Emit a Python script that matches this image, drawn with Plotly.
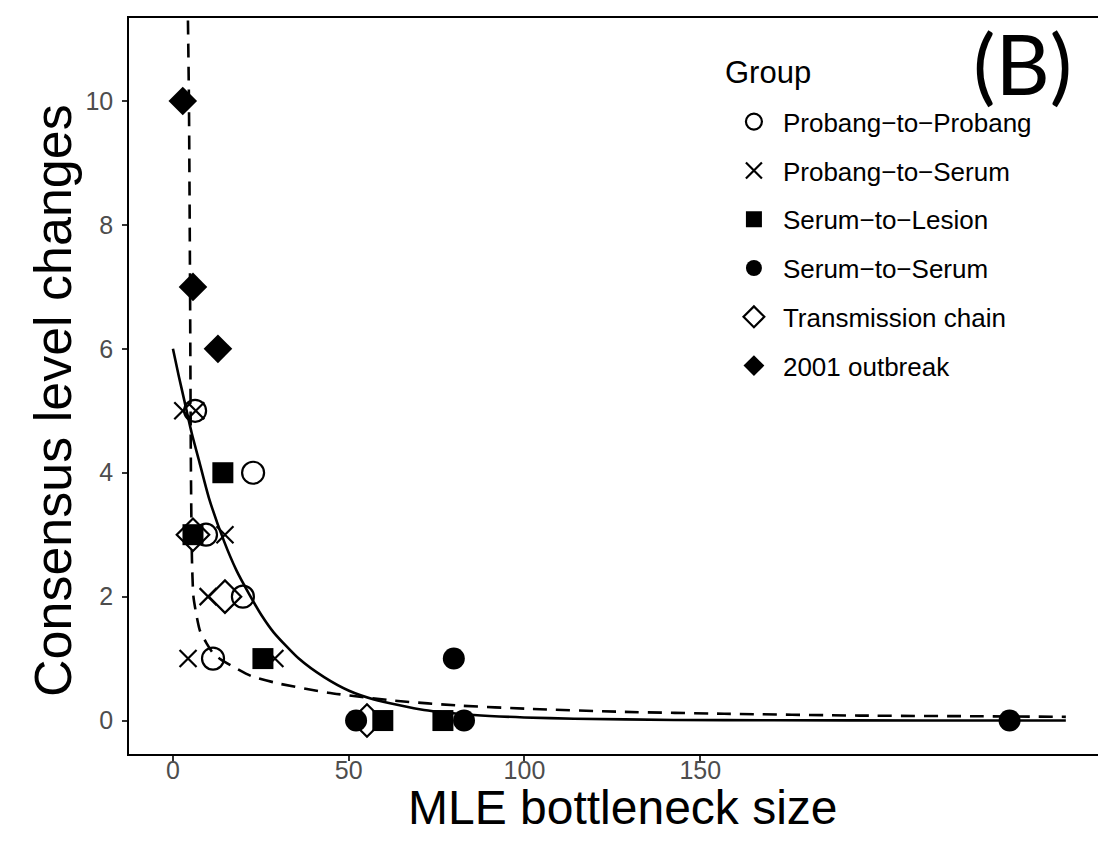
import plotly.graph_objects as go

# ---- data ----
pp_x = [6.3, 22.8, 9.4, 19.9, 11.4]          # Probang-to-Probang
pp_y = [5, 4, 3, 2, 1]
ps_x = [2.8, 6.5, 14.8, 10.0, 4.3, 29.0]     # Probang-to-Serum
ps_y = [5, 5, 3, 2, 1, 1]
sl_x = [14.2, 5.7, 25.6, 59.7, 76.8]         # Serum-to-Lesion
sl_y = [4, 3, 1, 0, 0]
ss_x = [79.9, 52.1, 82.8, 238.0]             # Serum-to-Serum
ss_y = [1, 0, 0, 0]
tc_x = [5.7, 14.8, 55.2]                     # Transmission chain
tc_y = [3, 2, 0]
ob_x = [2.8, 5.7, 12.8]                      # 2001 outbreak
ob_y = [10, 7, 6]

# fitted curves (sampled along the drawn lines)
solid_x = [0, 1.7, 3.1, 5.3, 7.4, 10.2, 14.5, 18.1, 21.6, 25.2, 28.7, 35.8, 43.0, 50.1, 57.2, 71.4, 85.6, 99.9, 114.1, 142.5, 171, 213.7, 254]
solid_y = [6.0, 5.55, 5.2, 4.65, 4.2, 3.6, 2.9, 2.42, 2.05, 1.7, 1.42, 1.0, 0.7, 0.48, 0.34, 0.17, 0.09, 0.05, 0.03, 0.01, 0.005, 0.0, 0.0]
dash_x = [4.27, 4.55, 4.84, 5.12, 5.41, 5.83, 6.69, 7.68, 9.53, 11.38, 13.8, 16.5, 22.2, 29.9, 44.1, 63.2, 81.9, 101, 128.3, 156.8, 195.2, 227.9, 254]
dash_y = [11.3, 10.0, 7.3, 4.0, 2.6, 2.0, 1.7, 1.45, 1.25, 1.09, 0.98, 0.89, 0.72, 0.6, 0.45, 0.32, 0.24, 0.19, 0.14, 0.11, 0.08, 0.07, 0.06]

x_ticks = [0, 50, 100, 150]
y_ticks = [0, 2, 4, 6, 8, 10]

FONT = "Liberation Sans"
fig = go.Figure()

def add(name, x, y, symbol, size, lw, grp):
    fig.add_trace(go.Scatter(
        x=x, y=y, mode="markers", name=name, legendgroup=grp,
        marker=dict(symbol=symbol, size=size, color="black",
                    line=dict(color="black", width=lw)),
    ))

add("Probang\u2212to\u2212Probang", pp_x, pp_y, "circle-open", 22, 2.2, "a")
add("Probang\u2212to\u2212Serum", ps_x, ps_y, "x-thin-open", 17, 2.2, "b")
add("Serum\u2212to\u2212Lesion", sl_x, sl_y, "square", 21, 0, "c")
add("Serum\u2212to\u2212Serum", ss_x, ss_y, "circle", 22, 0, "d")
add("Transmission chain", tc_x, tc_y, "diamond-open", 25, 2.2, "e")
add("2001 outbreak", ob_x, ob_y, "diamond", 22, 0, "f")

fig.add_trace(go.Scatter(x=solid_x, y=solid_y, mode="lines", showlegend=False,
                         line=dict(color="black", width=2.6, shape="spline", smoothing=0.6)))
fig.add_trace(go.Scatter(x=dash_x, y=dash_y, mode="lines", showlegend=False,
                         line=dict(color="black", width=2.6, dash="14px,9px", shape="spline", smoothing=0.6)))

fig.add_annotation(x=0.9076, y=0.94, xref="paper", yref="paper", text="(B)",
                   showarrow=False, font=dict(family="Lato", size=84, color="black"),
                   xanchor="center", yanchor="middle")
fig.add_annotation(x=0.603, y=0.926, xref="paper", yref="paper", text="Group",
                   showarrow=False, font=dict(family=FONT, size=31, color="black"),
                   xanchor="left", yanchor="middle")
# axis titles
fig.add_annotation(x=0.5015, y=-0.073, xref="paper", yref="paper", text="MLE bottleneck size",
                   showarrow=False, font=dict(family=FONT, size=48, color="black"),
                   xanchor="center", yanchor="middle")
fig.add_annotation(x=-0.0772, y=0.481, xref="paper", yref="paper", text="Consensus level changes",
                   showarrow=False, textangle=-90, font=dict(family=FONT, size=52, color="black"),
                   xanchor="center", yanchor="middle")

fig.update_layout(
    width=1106, height=841,
    margin=dict(l=121, r=0, t=10, b=95),
    plot_bgcolor="white", paper_bgcolor="white",
    font=dict(family=FONT, color="black"),
    showlegend=True,
    legend=dict(
        x=0.605, y=0.891, xanchor="left", yanchor="top",
        font=dict(size=26, family=FONT, color="black"),
        bgcolor="rgba(0,0,0,0)", tracegroupgap=12, traceorder="grouped",
        itemwidth=48,
    ),
    xaxis=dict(
        range=[-12.5, 267.7], tickvals=x_ticks, ticktext=[str(v) for v in x_ticks],
        showgrid=False, zeroline=False, showline=True, linecolor="black", linewidth=1.5,
        mirror=True, ticks="outside", ticklen=5, tickwidth=1.5, tickcolor="#333333",
        tickfont=dict(size=25, color="#4D4D4D", family=FONT), ticklabelstandoff=-12,
    ),
    yaxis=dict(
        range=[-0.54, 11.34], tickvals=y_ticks, ticktext=[str(v) for v in y_ticks],
        showgrid=False, zeroline=False, showline=True, linecolor="black", linewidth=1.5,
        ticks="outside", ticklen=5, tickwidth=1.5, tickcolor="#333333",
        tickfont=dict(size=25, color="#4D4D4D", family=FONT), ticklabelstandoff=4,
    ),
)

fig.write_html("out.html")
